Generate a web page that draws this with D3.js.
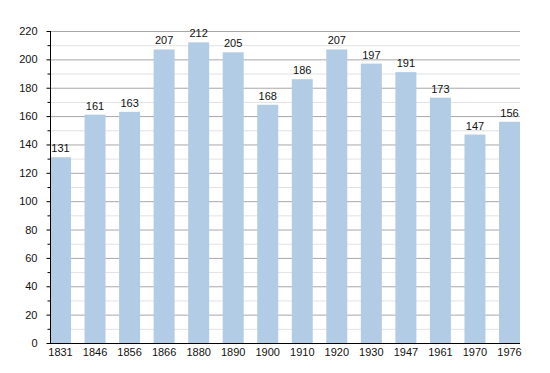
<!DOCTYPE html>
<html>
<head>
<meta charset="utf-8">
<script src="https://cdn.jsdelivr.net/npm/d3@7"></script>
<style>
  body { margin: 0; background: #fff; }
  text { font-family: "Liberation Sans", Arial, sans-serif; fill: #111; }
</style>
</head>
<body>
<script>
// population by census year
let years = ["1831", "1846", "1856", "1866", "1880", "1890", "1900", "1910", "1920", "1930", "1947", "1961", "1970", "1976"]
let population = [131, 161, 163, 207, 212, 205, 168, 186, 207, 197, 191, 173, 147, 156]
let yTicks = [0, 20, 40, 60, 80, 100, 120, 140, 160, 180, 200, 220]
let yMinor = [10, 30, 50, 70, 90, 110, 130, 150, 170, 190, 210]

let svg = d3.select("body").append("svg")
    .attr("width", 550)
    .attr("height", 373)

let x = d3.scaleBand()
    .domain(years)
    .range([50, 520])
    .paddingInner(0.392)
    .paddingOuter(0)

let y = d3.scaleLinear()
    .domain([0, 220])
    .range([343, 31])

// minor grid
svg.append("g").selectAll("line")
    .data(yMinor)
    .join("line")
    .attr("x1", 50)
    .attr("x2", 520)
    .attr("y1", d => y(d) + 0.5)
    .attr("y2", d => y(d) + 0.5)
    .attr("stroke", "#e2e2e2")

// major grid
svg.append("g").selectAll("line")
    .data(yTicks.slice(1))
    .join("line")
    .attr("x1", 50)
    .attr("x2", 520)
    .attr("y1", d => y(d) + 0.5)
    .attr("y2", d => y(d) + 0.5)
    .attr("stroke", "#a8a8a8")

// bars
svg.append("g").selectAll("rect")
    .data(population)
    .join("rect")
    .attr("x", (d, i) => x(years[i]))
    .attr("y", d => y(d))
    .attr("width", x.bandwidth())
    .attr("height", d => y(0) - y(d))
    .attr("fill", "#b3cce6")

// value labels
svg.append("g").selectAll("text")
    .data(population)
    .join("text")
    .attr("x", (d, i) => x(years[i]) + x.bandwidth() / 2)
    .attr("y", d => y(d) - 5)
    .attr("text-anchor", "middle")
    .attr("font-size", 11)
    .text(d => d)

// y axis
let yAxis = svg.append("g")
    .attr("transform", "translate(50.5,0)")
    .call(d3.axisLeft(y).tickValues(yTicks).tickSize(4).tickPadding(9))
yAxis.select(".domain").attr("stroke", "#000").attr("d", "M0," + y(220) + "V" + y(0))
yAxis.selectAll("text").attr("font-size", 11).attr("font-family", "Liberation Sans, Arial, sans-serif").attr("fill", "#111")
yAxis.selectAll(".tick line").attr("stroke", "#000")
yAxis.append("g").selectAll("line")
    .data(yMinor)
    .join("line")
    .attr("x1", -3)
    .attr("x2", 0)
    .attr("y1", d => y(d) + 0.5)
    .attr("y2", d => y(d) + 0.5)
    .attr("stroke", "#000")

// x axis
let xAxis = svg.append("g")
    .attr("transform", "translate(0,343.5)")
    .call(d3.axisBottom(x).tickSize(0).tickPadding(5))
xAxis.select(".domain").attr("stroke", "#000").attr("d", "M50,0H520")
xAxis.selectAll("text").attr("font-size", 11).attr("font-family", "Liberation Sans, Arial, sans-serif").attr("fill", "#111")
</script>
</body>
</html>
